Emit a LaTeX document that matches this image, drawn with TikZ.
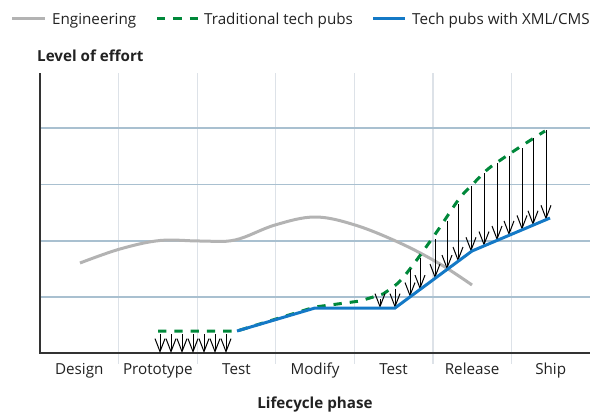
\documentclass[tikz,border=0pt]{standalone}
\usepackage{fontspec}
\setmainfont{Open Sans}
\usetikzlibrary{arrows.meta}

\definecolor{engGray}{HTML}{B3B3B3}
\definecolor{tradGreen}{HTML}{00883A}
\definecolor{cmsBlue}{HTML}{1479C6}
\definecolor{gridV}{HTML}{DDE2E8}
\definecolor{gridH}{HTML}{A9C0D0}
\definecolor{axisInk}{HTML}{333333}
\definecolor{labelInk}{HTML}{222222}

\begin{document}
\begin{tikzpicture}[x=1pt,y=-1pt,
  font=\fontsize{15.2}{17}\selectfont,
  eng/.style={engGray, line width=3pt},
  trad/.style={tradGreen, line width=3pt, dash pattern=on 8.3pt off 8pt},
  cms/.style={cmsBlue, line width=3pt},
  effarrow/.style={black, line width=1pt,
    -{Straight Barb[length=13pt,width=10pt,line width=1pt]}},
  vgrid/.style={gridV, line width=1.2pt},
  hgrid/.style={gridH, line width=1.3pt},
  axisline/.style={axisInk, line width=1.5pt},
  phase/.style={anchor=base, text=labelInk},
  legendtext/.style={anchor=base west, text=labelInk},
  title/.style={anchor=base, text=labelInk, font=\fontsize{15.2}{17}\selectfont\bfseries}]

\useasboundingbox (0,0) rectangle (599,412);

% grid
\foreach \x in {118.6,197.1,275.7,354.3,432.9,511.4}
  \draw[vgrid] (\x,73) -- (\x,364);
\foreach \y in {128,184.5,241,297}
  \draw[hgrid] (40,\y) -- (590,\y);

% axes
\coordinate (origin) at (40,353);
\coordinate (ytop) at (40,73);
\coordinate (xend) at (590,353);
\draw[axisline] (ytop) -- (origin) -- (xend);

% engineering effort
\draw[eng] plot[smooth, tension=0.6] coordinates {(80,263) (120,249) (160,240.5) (200,241) (235,240) (275,225) (315,217) (355,225) (400,243) (440,264) (472,285)};

% traditional tech pubs
\draw[trad] (158,331) -- (237,331) -- (315,307) -- (360,301)
  -- plot[smooth, tension=0.5] coordinates {(383,294) (398,283) (413,265) (436,233) (459,199) (473,184) (488,169) (505,157) (523,145) (545,131)};

% savings arrows
\foreach \x in {160,171,182,193,204,215,226}
  \draw[effarrow] (\x,334) -- (\x,353);
\foreach \x/\t/\b in {380/299/308, 395/289/308, 410/269/296.9, 420/258/289.5,
    435/239/278.4, 447/221/269.5, 458/204/261.4, 471/186/251.7, 484/173/245.9,
    497/163/240.4, 509/156/235.3, 522/148/229.8, 533/138/225.2, 546/130/219.7}
  \draw[effarrow] (\x,\t) -- (\x,\b);

% tech pubs with XML/CMS
\draw[cms] (237,331) -- (315,308) -- (395,308) -- (472,251) -- (550,218);

% legend
\coordinate (lg1a) at (12,19);  \coordinate (lg1b) at (45,19);
\coordinate (lg2a) at (157,19); \coordinate (lg2b) at (198,19);
\coordinate (lg3a) at (373,19); \coordinate (lg3b) at (405,19);
\draw[eng] (lg1a) -- (lg1b);
\node[legendtext, inner sep=0pt] (lgEng) at (52,25) {Engineering};
\draw[trad] (lg2a) -- (lg2b);
\node[legendtext, inner sep=0pt] (lgTrad) at (204,25) {Traditional tech pubs};
\draw[cms] (lg3a) -- (lg3b);
\node[legendtext, inner sep=0pt] (lgCms) at (412,25) {Tech pubs with XML/CMS};

% axis titles
\node[title, anchor=base west, inner sep=0pt] (ytitle) at (37,61) {Level of effort};
\node[title] (xtitle) at (315,408) {Lifecycle phase};

% phase labels
\node[phase] (p1) at (79.3,374) {Design};
\node[phase] (p2) at (157.9,374) {Prototype};
\node[phase] (p3) at (236.4,374) {Test};
\node[phase] (p4) at (315,374) {Modify};
\node[phase] (p5) at (393.6,374) {Test};
\node[phase] (p6) at (472.1,374) {Release};
\node[phase] (p7) at (550.7,374) {Ship};
\end{tikzpicture}
\end{document}
